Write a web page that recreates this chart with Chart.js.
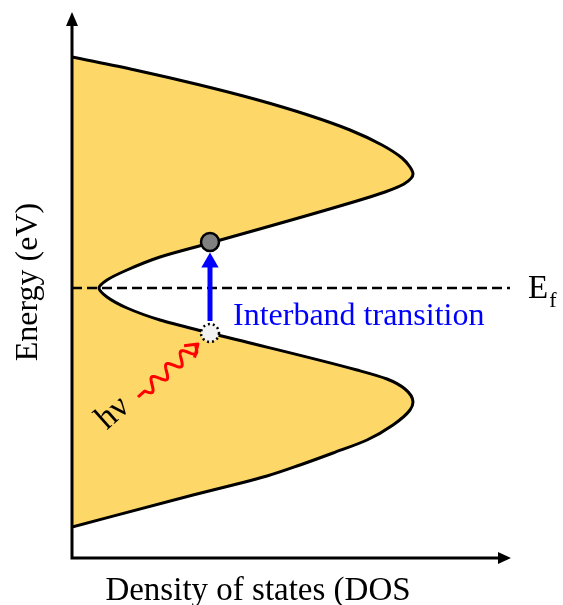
<!DOCTYPE html>
<html>
<head>
<meta charset="utf-8">
<script src="https://cdn.jsdelivr.net/npm/chart.js@4.4.0/dist/chart.umd.min.js"></script>
<style>
  html, body { margin: 0; padding: 0; background: #fff; }
  #wrap { width: 563px; height: 605px; }
</style>
</head>
<body>
<div id="wrap"><canvas id="dosChart" width="563" height="605"></canvas></div>
<script>
// band outline: DOS (x) vs energy (y), Fermi level at 0
const bandDos = [0, 0.63, 1.28, 1.86, 2.36, 2.78, 3.10, 3.30, 3.38, 3.41, 3.32, 3.13, 2.78, 1.38, 0.88, 0.55, 0.35, 0.27,
  0.35, 0.55, 0.88, 1.38, 2.85, 3.15, 3.33, 3.41, 3.38, 3.21, 2.95, 2.61, 2.28, 1.95, 1.61, 1.21, 0];
const bandEnergy = [2.31, 2.18, 2.03, 1.88, 1.73, 1.58, 1.43, 1.30, 1.21, 1.14, 1.04, 0.96, 0.85, 0.45, 0.31, 0.18, 0.08, 0,
  -0.09, -0.20, -0.32, -0.45, -0.82, -0.91, -1.01, -1.14, -1.22, -1.37, -1.52, -1.65, -1.77, -1.88, -1.97, -2.07, -2.39];

const fermiDos = [0, 4.38];
const fermiEnergy = [0, 0];

const transitionDos = [1.38, 1.38];
const transitionEnergy = [-0.33, 0.255];

const electronState = [1.38, 0.46];
const holeState = [1.38, -0.45];

const photonStart = [0.66, -1.09];
const photonEnd = [1.26, -0.56];

const xLabel = 'Density of states (DOS';
const yLabel = 'Energy (eV)';
const transitionLabel = 'Interband transition';
const photonLabel = 'hν';

const serif = '"Liberation Serif", "Times New Roman", serif';

const toPoints = (xs, ys) => xs.map((v, i) => ({ x: v, y: ys[i] }));

const overlay = {
  id: 'overlay',
  afterDatasetsDraw(chart) {
    const { ctx, chartArea: a, scales: { x, y } } = chart;
    ctx.save();

    // axes with arrow heads
    ctx.strokeStyle = '#000';
    ctx.fillStyle = '#000';
    ctx.lineWidth = 3;
    ctx.beginPath();
    ctx.moveTo(a.left, a.top + 10);
    ctx.lineTo(a.left, a.bottom);
    ctx.lineTo(a.right - 10, a.bottom);
    ctx.stroke();
    ctx.beginPath();
    ctx.moveTo(a.left, a.top);
    ctx.lineTo(a.left - 6, a.top + 14);
    ctx.lineTo(a.left + 6, a.top + 14);
    ctx.closePath();
    ctx.fill();
    ctx.beginPath();
    ctx.moveTo(a.right, a.bottom);
    ctx.lineTo(a.right - 13, a.bottom - 6);
    ctx.lineTo(a.right - 13, a.bottom + 6);
    ctx.closePath();
    ctx.fill();

    // dotted rim of the hole
    const hx = x.getPixelForValue(holeState[0]);
    const hy = y.getPixelForValue(holeState[1]);
    ctx.lineWidth = 2.5;
    ctx.setLineDash([2, 3]);
    ctx.beginPath();
    ctx.arc(hx, hy, 9, 0, Math.PI * 2);
    ctx.stroke();
    ctx.setLineDash([]);

    // photon: wavy red arrow
    const sx = x.getPixelForValue(photonStart[0]), sy = y.getPixelForValue(photonStart[1]);
    const ex = x.getPixelForValue(photonEnd[0]), ey = y.getPixelForValue(photonEnd[1]);
    const len = Math.hypot(ex - sx, ey - sy);
    const ux = (ex - sx) / len, uy = (ey - sy) / len;
    const nx = -uy, ny = ux;
    ctx.strokeStyle = '#ff0000';
    ctx.lineWidth = 3;
    ctx.lineJoin = 'round';
    ctx.beginPath();
    const w0 = 9, w1 = len - 3;
    for (let t = 0; t <= len; t += 0.5) {
      let amp = 0;
      if (t > w0 && t < w1) amp = 6 * Math.sin((t - w0) / (w1 - w0) * 3.5 * 2 * Math.PI);
      const px = sx + ux * t + nx * amp, py = sy + uy * t + ny * amp;
      if (t === 0) ctx.moveTo(px, py); else ctx.lineTo(px, py);
    }
    ctx.stroke();
    const ang = Math.atan2(uy, ux);
    ctx.beginPath();
    ctx.moveTo(ex - 14 * Math.cos(ang - 0.6), ey - 14 * Math.sin(ang - 0.6));
    ctx.lineTo(ex, ey);
    ctx.lineTo(ex - 14 * Math.cos(ang + 0.6), ey - 14 * Math.sin(ang + 0.6));
    ctx.stroke();

    // texts
    ctx.fillStyle = '#000';
    ctx.textBaseline = 'alphabetic';

    ctx.save();
    ctx.translate(x.getPixelForValue(0.41), y.getPixelForValue(-1.25));
    ctx.rotate(ang);
    ctx.font = '34px ' + serif;
    ctx.textAlign = 'center';
    ctx.textBaseline = 'middle';
    ctx.fillText(photonLabel, 0, 0);
    ctx.restore();

    ctx.fillStyle = '#0000ff';
    ctx.font = '32px ' + serif;
    ctx.textAlign = 'left';
    ctx.fillText(transitionLabel, x.getPixelForValue(1.61), y.getPixelForValue(-0.37));

    ctx.fillStyle = '#000';
    ctx.font = '33px ' + serif;
    const efx = x.getPixelForValue(4.56), efy = y.getPixelForValue(-0.10);
    ctx.fillText('E', efx, efy);
    const ew = ctx.measureText('E').width;
    ctx.font = '22px ' + serif;
    ctx.fillText('f', efx + ew + 1, efy + 9);

    ctx.font = '33px ' + serif;
    ctx.textAlign = 'center';
    ctx.fillText(xLabel, 258, a.bottom + 42);

    ctx.save();
    ctx.translate(29, 282);
    ctx.rotate(-Math.PI / 2);
    ctx.textBaseline = 'middle';
    ctx.font = '32px ' + serif;
    ctx.fillText(yLabel, 0, 0);
    ctx.restore();

    ctx.restore();
  }
};

new Chart(document.getElementById('dosChart').getContext('2d'), {
  type: 'line',
  data: {
    datasets: [
      {
        label: 'electron',
        data: toPoints([electronState[0]], [electronState[1]]),
        showLine: false,
        pointRadius: 9,
        pointBackgroundColor: '#808080',
        pointBorderColor: '#000',
        pointBorderWidth: 2.5,
        order: 1
      },
      {
        label: 'hole',
        data: toPoints([holeState[0]], [holeState[1]]),
        showLine: false,
        pointRadius: 9,
        pointBackgroundColor: '#f2f2f2',
        pointBorderWidth: 0,
        order: 1
      },
      {
        label: 'transition',
        data: toPoints(transitionDos, transitionEnergy),
        borderColor: '#0000ff',
        borderWidth: 5,
        pointRadius: [0, 10],
        pointStyle: 'triangle',
        pointBackgroundColor: '#0000ff',
        pointBorderWidth: 0,
        order: 2
      },
      {
        label: 'Ef',
        data: toPoints(fermiDos, fermiEnergy),
        borderColor: '#000',
        borderWidth: 2.5,
        borderDash: [10, 5],
        pointRadius: 0,
        order: 3
      },
      {
        label: 'DOS',
        data: toPoints(bandDos, bandEnergy),
        borderColor: '#000',
        borderWidth: 3,
        backgroundColor: '#fdd868',
        fill: 'origin',
        cubicInterpolationMode: 'monotone',
        pointRadius: 0,
        order: 4
      }
    ]
  },
  options: {
    indexAxis: 'y',
    responsive: false,
    animation: false,
    events: [],
    layout: { padding: { left: 72, right: 52, top: 12, bottom: 47 } },
    plugins: { legend: { display: false }, tooltip: { enabled: false } },
    scales: {
      x: { type: 'linear', min: 0, max: 4.39, display: false },
      y: { type: 'linear', min: -2.70, max: 2.76, display: false }
    }
  },
  plugins: [overlay]
});
</script>
</body>
</html>
